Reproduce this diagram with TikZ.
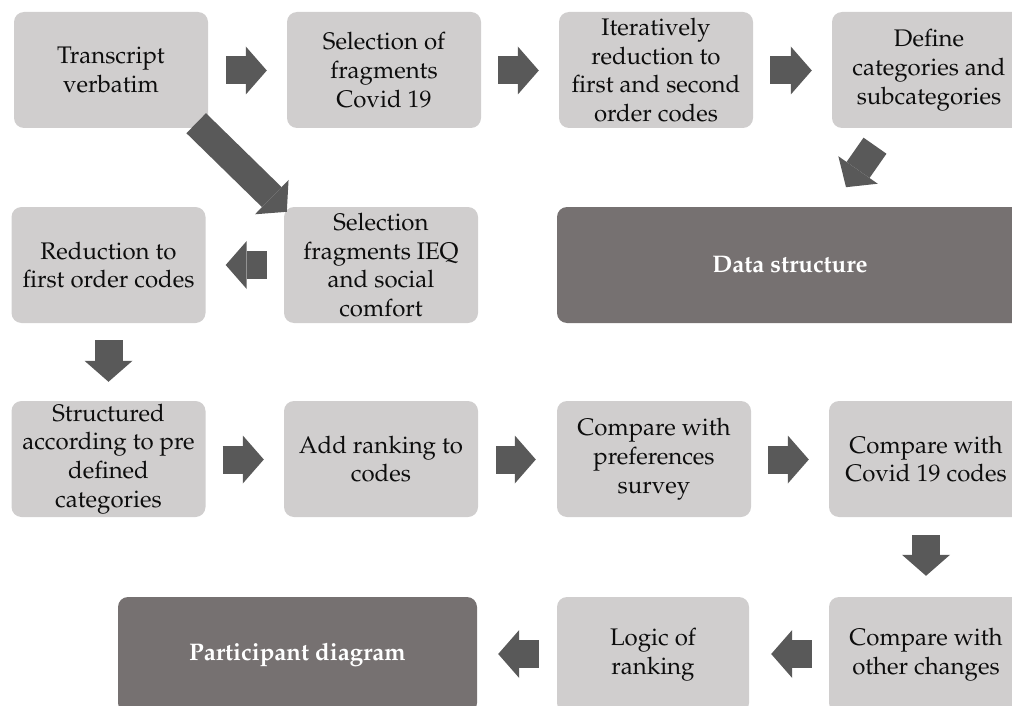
\documentclass[tikz,border=0pt]{standalone}
\usepackage[T1]{fontenc}
\usepackage{mathpazo}
\usetikzlibrary{arrows.meta,calc}
\definecolor{boxgray}{HTML}{D0CECE}
\definecolor{darkbox}{HTML}{767171}
\definecolor{arrowgray}{HTML}{595959}
\definecolor{txt}{HTML}{0D0D0D}
\begin{document}
\begin{tikzpicture}[x=1pt,y=-1pt,
  stepbox/.style={fill=boxgray, rounded corners=10pt, align=center, inner sep=0pt,
    text=txt, minimum width=194pt, minimum height=116pt,
    font=\fontsize{24}{28.8}\selectfont},
  darkstep/.style={fill=darkbox, rounded corners=10pt, align=center, inner sep=0pt,
    text=white, minimum height=116pt,
    font=\fontsize{24}{28.8}\selectfont\bfseries},
  barrow/.style={draw=arrowgray, line width=28pt,
    -{Triangle[width=48pt,length=21pt,line width=0pt]}}
]
\useasboundingbox (0,0) rectangle (1012,706);
\clip (0,0) rectangle (1012,706);

% row 1
\node[stepbox] (t1) at (111,70) {Transcript\\verbatim};
\node[stepbox] (t2) at (384,70) {Selection of\\fragments\\Covid 19};
\node[stepbox] (t3) at (656,70) {Iteratively\\reduction to\\first and second\\order codes};
\node[stepbox] (t4) at (929,70) {Define\\categories and\\subcategories};
% row 2
\node[stepbox] (r1) at (108.5,265) {Reduction to\\first order codes};
\node[stepbox] (r2) at (381,265) {Selection\\fragments IEQ\\and social\\comfort};
\node[darkstep, minimum width=466pt] (ds) at (790,265) {Data structure};
% row 3
\node[stepbox] (s1) at (108.5,459) {Structured\\according to pre\\defined\\categories};
\node[stepbox] (s2) at (381,459) {Add ranking to\\codes};
\node[stepbox] (s3) at (654,459) {Compare with\\preferences\\survey};
\node[stepbox] (s4) at (926,459) {Compare with\\Covid 19 codes};
% row 4
\node[darkstep, minimum width=359pt] (pd) at (297.5,655) {Participant diagram};
\node[stepbox, minimum width=192pt] (lg) at (653,655) {Logic of\\ranking};
\node[stepbox] (co) at (926,655) {Compare with\\other changes};

% connectors
\draw[barrow] ($(t1.east)+(18,0.5)$) -- ($(t2.west)+(-20,0.5)$);
\draw[barrow] ($(t2.east)+(17,0.5)$) -- ($(t3.west)+(-20,0.5)$);
\draw[barrow] ($(t3.east)+(17,0.5)$) -- ($(t4.west)+(-20,0.5)$);
\draw[barrow] ($(t4.south)+(-54,17.5)$) -- ($(t4.south)+(-83,59)$);
\draw[barrow] ($(t1.south east)+(-12,-5)$) -- ($(r2.north west)+(3,5)$);
\draw[barrow] ($(r2.west)+(-17,0)$) -- ($(r1.east)+(20,0)$);
\draw[barrow] ($(r1.south)+(0,17)$) -- ($(s1.north)+(0,-19)$);
\draw[barrow] ($(s1.east)+(17,0.5)$) -- ($(s2.west)+(-20,0.5)$);
\draw[barrow] ($(s2.east)+(18,0.5)$) -- ($(s3.west)+(-21,0.5)$);
\draw[barrow] ($(s3.east)+(17,0.5)$) -- ($(s4.west)+(-20,0.5)$);
\draw[barrow] ($(s4.south)+(0,18)$) -- ($(co.north)+(0,-21)$);
\draw[barrow] ($(co.west)+(-17,-1)$) -- ($(lg.east)+(22,-1)$);
\draw[barrow] ($(lg.west)+(-18,-1)$) -- ($(pd.east)+(21,-1)$);
\end{tikzpicture}
\end{document}
